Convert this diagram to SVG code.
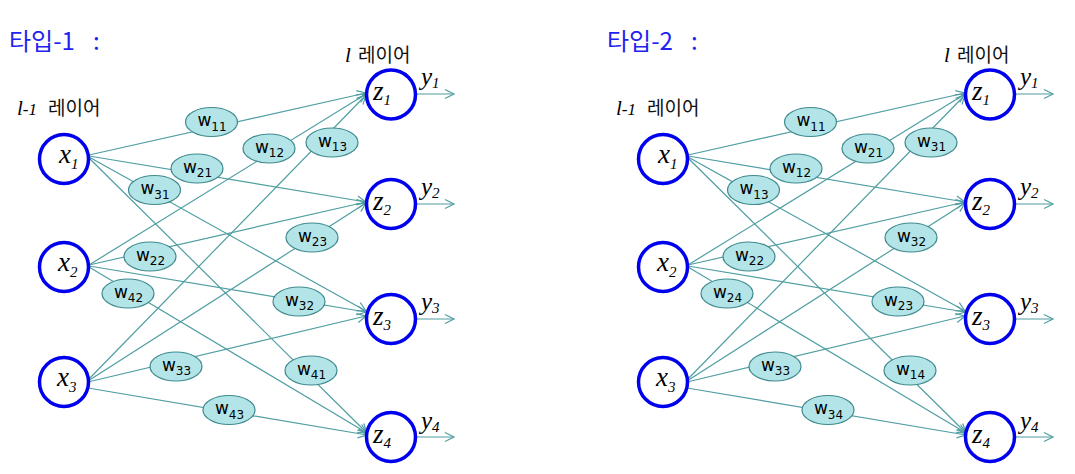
<svg xmlns="http://www.w3.org/2000/svg" width="1075" height="474" viewBox="0 0 1075 474">
<style>
.bg{fill:#ffffff}
.title{font-family:"Noto Sans CJK KR","Noto Sans",sans-serif;font-size:24px;fill:#2323f0}
.kr{font-family:"Noto Sans CJK KR","Noto Sans",sans-serif;font-size:19px;fill:#111111}
.it{font-family:"Liberation Serif",serif;font-style:italic;fill:#000000}
.node{fill:#ffffff;stroke:#0000ee;stroke-width:3.5}
.nl{font-family:"Liberation Serif",serif;font-style:italic;font-size:27px;fill:#000000}
.sub{font-size:15px}
.edge{stroke:#4f9ea2;stroke-width:1.2;fill:none;marker-end:url(#arr)}
.wt{fill:#b3e5e8;stroke:#3e8a8e;stroke-width:1.2}
.wl{font-family:"DejaVu Sans",sans-serif;font-size:17px;fill:#000000;text-anchor:middle}
.ws{font-size:12px}
.yl{font-family:"Liberation Serif",serif;font-style:italic;font-size:25px;fill:#000000}
</style>
<defs>
<marker id="arr" markerUnits="userSpaceOnUse" markerWidth="14" markerHeight="12" viewBox="-10 -6 12 12" refX="0" refY="0" orient="auto">
<path d="M-9,-4.5 L0,0 L-9,4.5" fill="none" stroke="#4f9ea2" stroke-width="1.2"/>
</marker>
<g id="net">
<g id="connectors">
<line class="edge" x1="89" y1="155" x2="366" y2="93"/>
<line class="edge" x1="89" y1="156" x2="366" y2="202"/>
<line class="edge" x1="89" y1="157" x2="366" y2="311"/>
<line class="edge" x1="89" y1="158" x2="367" y2="433"/>
<line class="edge" x1="89" y1="265" x2="366" y2="94"/>
<line class="edge" x1="89" y1="265" x2="366" y2="202"/>
<line class="edge" x1="89" y1="266" x2="366" y2="312"/>
<line class="edge" x1="89" y1="267" x2="367" y2="433"/>
<line class="edge" x1="88" y1="380" x2="366" y2="95"/>
<line class="edge" x1="88" y1="381" x2="366" y2="203"/>
<line class="edge" x1="88" y1="382" x2="366" y2="316"/>
<line class="edge" x1="88" y1="388" x2="367" y2="435"/>
<line class="edge" x1="416" y1="94" x2="454" y2="94"/>
<line class="edge" x1="416" y1="204" x2="454" y2="204"/>
<line class="edge" x1="416" y1="319" x2="454" y2="319"/>
<line class="edge" x1="416" y1="437" x2="454" y2="437"/>
</g>
</g>
</defs>
<rect class="bg" x="0" y="0" width="1075" height="474"/>

<!-- ================= TYPE 1 ================= -->
<g id="type1">
<text class="title" x="9" y="50">타입-1<tspan x="93">:</tspan></text>
<g id="t1-label-prev"><text x="17" y="115"><tspan class="it" font-size="21">l</tspan><tspan class="it" font-size="17">-1</tspan><tspan class="kr" x="48">레이어</tspan></text></g>
<g id="t1-label-cur"><text x="345" y="62"><tspan class="it" font-size="21">l</tspan><tspan class="kr" x="358">레이어</tspan></text></g>
<g id="t1-connectors"><use href="#connectors"/></g>

<g id="t1-x1"><circle class="node" cx="64" cy="159" r="24.5"/><text class="nl" x="59" y="163">x<tspan class="sub" dy="6">1</tspan></text></g>
<g id="t1-x2"><circle class="node" cx="64" cy="267" r="24.5"/><text class="nl" x="58" y="271">x<tspan class="sub" dy="6">2</tspan></text></g>
<g id="t1-x3"><circle class="node" cx="64" cy="382" r="24.5"/><text class="nl" x="57" y="386">x<tspan class="sub" dy="6">3</tspan></text></g>
<g id="t1-z1"><circle class="node" cx="391" cy="94.5" r="24.5"/><text class="nl" x="373" y="100">z<tspan class="sub" dy="5">1</tspan></text></g>
<g id="t1-z2"><circle class="node" cx="391" cy="204" r="24.5"/><text class="nl" x="373" y="210">z<tspan class="sub" dy="5">2</tspan></text></g>
<g id="t1-z3"><circle class="node" cx="391" cy="319" r="24.5"/><text class="nl" x="373" y="325">z<tspan class="sub" dy="5">3</tspan></text></g>
<g id="t1-z4"><circle class="node" cx="391" cy="437" r="24.5"/><text class="nl" x="373" y="443">z<tspan class="sub" dy="5">4</tspan></text></g>
<g id="t1-y"><text class="yl" x="421" y="85">y<tspan class="sub" dy="3">1</tspan></text><text class="yl" x="421" y="195">y<tspan class="sub" dy="3">2</tspan></text><text class="yl" x="421" y="310">y<tspan class="sub" dy="3">3</tspan></text><text class="yl" x="421" y="429">y<tspan class="sub" dy="3">4</tspan></text></g>

<g id="t1-w11"><ellipse class="wt" cx="211.5" cy="122" rx="26" ry="14.5"/><text class="wl" x="212" y="126">w<tspan class="ws" dy="4.5">11</tspan></text></g>
<g id="t1-w12"><ellipse class="wt" cx="269" cy="148.5" rx="26" ry="14.5"/><text class="wl" x="269.5" y="152.5">w<tspan class="ws" dy="4.5">12</tspan></text></g>
<g id="t1-w13"><ellipse class="wt" cx="332" cy="142.5" rx="26" ry="14.5"/><text class="wl" x="332.5" y="146.5">w<tspan class="ws" dy="4.5">13</tspan></text></g>
<g id="t1-w21"><ellipse class="wt" cx="197" cy="168.5" rx="26" ry="14.5"/><text class="wl" x="197.5" y="172.5">w<tspan class="ws" dy="4.5">21</tspan></text></g>
<g id="t1-w31"><ellipse class="wt" cx="154.5" cy="190" rx="26" ry="14.5"/><text class="wl" x="155" y="194">w<tspan class="ws" dy="4.5">31</tspan></text></g>
<g id="t1-w23"><ellipse class="wt" cx="312" cy="237.5" rx="26" ry="14.5"/><text class="wl" x="312.5" y="241.5">w<tspan class="ws" dy="4.5">23</tspan></text></g>
<g id="t1-w22"><ellipse class="wt" cx="150" cy="256.5" rx="26" ry="14.5"/><text class="wl" x="150.5" y="260.5">w<tspan class="ws" dy="4.5">22</tspan></text></g>
<g id="t1-w42"><ellipse class="wt" cx="128" cy="293.5" rx="26" ry="14.5"/><text class="wl" x="128.5" y="297.5">w<tspan class="ws" dy="4.5">42</tspan></text></g>
<g id="t1-w32"><ellipse class="wt" cx="299" cy="301.5" rx="26" ry="14.5"/><text class="wl" x="299.5" y="305.5">w<tspan class="ws" dy="4.5">32</tspan></text></g>
<g id="t1-w33"><ellipse class="wt" cx="176" cy="366.5" rx="26" ry="14.5"/><text class="wl" x="176.5" y="370.5">w<tspan class="ws" dy="4.5">33</tspan></text></g>
<g id="t1-w41"><ellipse class="wt" cx="311" cy="370.5" rx="26" ry="14.5"/><text class="wl" x="311.5" y="374.5">w<tspan class="ws" dy="4.5">41</tspan></text></g>
<g id="t1-w43"><ellipse class="wt" cx="229" cy="410" rx="26" ry="14.5"/><text class="wl" x="229.5" y="414">w<tspan class="ws" dy="4.5">43</tspan></text></g>
</g>

<!-- ================= TYPE 2 ================= -->
<g id="type2" transform="translate(599,0)">
<text class="title" x="8" y="50">타입-2<tspan x="92">:</tspan></text>
<g id="t2-label-prev"><text x="17" y="115"><tspan class="it" font-size="21">l</tspan><tspan class="it" font-size="17">-1</tspan><tspan class="kr" x="48">레이어</tspan></text></g>
<g id="t2-label-cur"><text x="345" y="62"><tspan class="it" font-size="21">l</tspan><tspan class="kr" x="358">레이어</tspan></text></g>
<g id="t2-connectors"><use href="#connectors"/></g>

<g id="t2-x1"><circle class="node" cx="64" cy="159" r="24.5"/><text class="nl" x="59" y="163">x<tspan class="sub" dy="6">1</tspan></text></g>
<g id="t2-x2"><circle class="node" cx="64" cy="267" r="24.5"/><text class="nl" x="58" y="271">x<tspan class="sub" dy="6">2</tspan></text></g>
<g id="t2-x3"><circle class="node" cx="64" cy="382" r="24.5"/><text class="nl" x="57" y="386">x<tspan class="sub" dy="6">3</tspan></text></g>
<g id="t2-z1"><circle class="node" cx="391" cy="94.5" r="24.5"/><text class="nl" x="373" y="100">z<tspan class="sub" dy="5">1</tspan></text></g>
<g id="t2-z2"><circle class="node" cx="391" cy="204" r="24.5"/><text class="nl" x="373" y="210">z<tspan class="sub" dy="5">2</tspan></text></g>
<g id="t2-z3"><circle class="node" cx="391" cy="319" r="24.5"/><text class="nl" x="373" y="325">z<tspan class="sub" dy="5">3</tspan></text></g>
<g id="t2-z4"><circle class="node" cx="391" cy="437" r="24.5"/><text class="nl" x="373" y="443">z<tspan class="sub" dy="5">4</tspan></text></g>
<g id="t2-y"><text class="yl" x="421" y="85">y<tspan class="sub" dy="3">1</tspan></text><text class="yl" x="421" y="195">y<tspan class="sub" dy="3">2</tspan></text><text class="yl" x="421" y="310">y<tspan class="sub" dy="3">3</tspan></text><text class="yl" x="421" y="429">y<tspan class="sub" dy="3">4</tspan></text></g>

<g id="t2-w11"><ellipse class="wt" cx="211.5" cy="122" rx="26" ry="14.5"/><text class="wl" x="212" y="126">w<tspan class="ws" dy="4.5">11</tspan></text></g>
<g id="t2-w21"><ellipse class="wt" cx="269" cy="148.5" rx="26" ry="14.5"/><text class="wl" x="269.5" y="152.5">w<tspan class="ws" dy="4.5">21</tspan></text></g>
<g id="t2-w31"><ellipse class="wt" cx="332" cy="142.5" rx="26" ry="14.5"/><text class="wl" x="332.5" y="146.5">w<tspan class="ws" dy="4.5">31</tspan></text></g>
<g id="t2-w12"><ellipse class="wt" cx="197" cy="168.5" rx="26" ry="14.5"/><text class="wl" x="197.5" y="172.5">w<tspan class="ws" dy="4.5">12</tspan></text></g>
<g id="t2-w13"><ellipse class="wt" cx="154.5" cy="190" rx="26" ry="14.5"/><text class="wl" x="155" y="194">w<tspan class="ws" dy="4.5">13</tspan></text></g>
<g id="t2-w32"><ellipse class="wt" cx="312" cy="237.5" rx="26" ry="14.5"/><text class="wl" x="312.5" y="241.5">w<tspan class="ws" dy="4.5">32</tspan></text></g>
<g id="t2-w22"><ellipse class="wt" cx="150" cy="256.5" rx="26" ry="14.5"/><text class="wl" x="150.5" y="260.5">w<tspan class="ws" dy="4.5">22</tspan></text></g>
<g id="t2-w24"><ellipse class="wt" cx="128" cy="293.5" rx="26" ry="14.5"/><text class="wl" x="128.5" y="297.5">w<tspan class="ws" dy="4.5">24</tspan></text></g>
<g id="t2-w23"><ellipse class="wt" cx="299" cy="301.5" rx="26" ry="14.5"/><text class="wl" x="299.5" y="305.5">w<tspan class="ws" dy="4.5">23</tspan></text></g>
<g id="t2-w33"><ellipse class="wt" cx="176" cy="366.5" rx="26" ry="14.5"/><text class="wl" x="176.5" y="370.5">w<tspan class="ws" dy="4.5">33</tspan></text></g>
<g id="t2-w14"><ellipse class="wt" cx="311" cy="370.5" rx="26" ry="14.5"/><text class="wl" x="311.5" y="374.5">w<tspan class="ws" dy="4.5">14</tspan></text></g>
<g id="t2-w34"><ellipse class="wt" cx="229" cy="410" rx="26" ry="14.5"/><text class="wl" x="229.5" y="414">w<tspan class="ws" dy="4.5">34</tspan></text></g>
</g>
</svg>
